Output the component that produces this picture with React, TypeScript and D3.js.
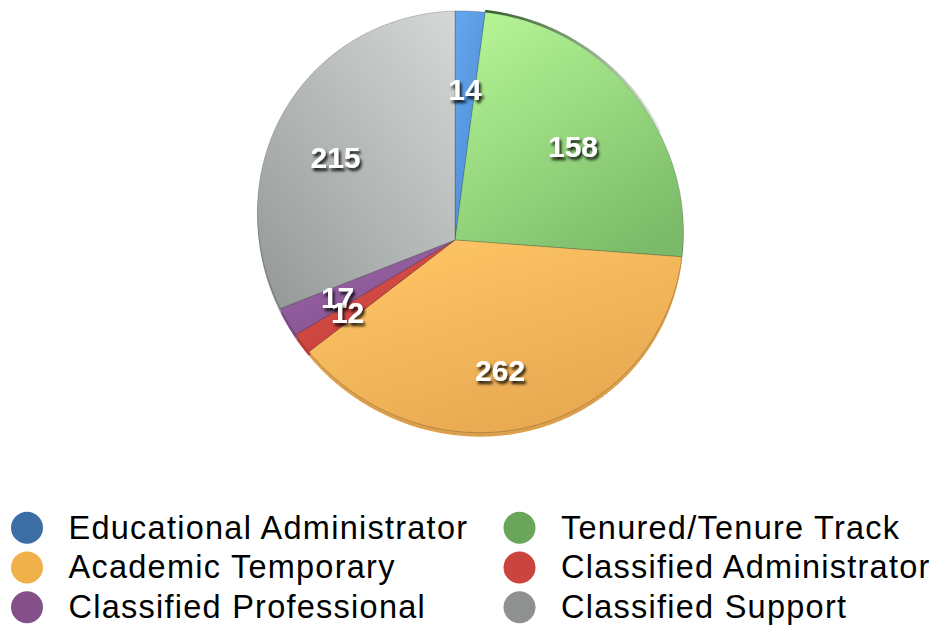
import React from "react";
import * as d3 from "d3";

const categories = [
  "Educational Administrator",
  "Tenured/Tenure Track",
  "Academic Temporary",
  "Classified Administrator",
  "Classified Professional",
  "Classified Support",
];
const values = [14, 158, 262, 12, 17, 215];
const legendColors = ["#3b6ea5", "#6aa55c", "#f0b04a", "#cc4440", "#835089", "#8f9090"];
const sliceTop = ["#63a4ea", "#b3f394", "#fec565", "#d85048", "#9a64a6", "#d6d8d8"];
const sliceBottom = ["#4a8ad4", "#7aba68", "#e6a64f", "#c8403c", "#84528f", "#969b9a"];
// legend order: left column then right column
const legendLeft = [0, 2, 4];
const legendRight = [1, 3, 5];

const W = 935;
const H = 626;
// perspective view of the pie disk (apex = projected centre)
const APEX_X = 455;
const APEX_Y = 240;
const M11 = 211;
const M21 = 10.8;
const M22 = 208.4;
const PA = -0.072;
const PB = 0.09;
const DEPTH = 4;

const project = (x: number, y: number): [number, number] => {
  const w = 1 + PA * x + PB * y;
  return [APEX_X + (M11 * x) / w, APEX_Y + (M21 * x + M22 * y) / w];
};
const rim = (theta: number, rho = 1): [number, number] =>
  project(rho * Math.sin(theta), -rho * Math.cos(theta));

const sampleArc = (a0: number, a1: number): [number, number][] => {
  const n = Math.max(2, Math.ceil((a1 - a0) / (Math.PI / 360)));
  return d3.range(n + 1).map((k) => rim(a0 + ((a1 - a0) * k) / n));
};

export default function App() {
  const pie = d3.pie<number>().sort(null).startAngle(0).endAngle(2 * Math.PI)(values);
  const line = d3.line();

  const slicePath = (a0: number, a1: number, dy = 0) =>
    line(
      [[APEX_X, APEX_Y] as [number, number], ...sampleArc(a0, a1)].map(
        ([x, y]) => [x, y + dy] as [number, number]
      )
    ) + "Z";

  const g1 = pie[1];
  const rimPts = sampleArc(g1.startAngle, g1.startAngle + (g1.endAngle - g1.startAngle) * 0.62).map(
    ([x, y]) => [x + 0.9, y - 0.9] as [number, number]
  );
  const rs = rimPts[0];
  const re = rimPts[rimPts.length - 1];

  const labelOrder = [5, 4, 3, 2, 1, 0];
  const LR = 0.68;

  const font = "'Liberation Sans', Arial, Helvetica, sans-serif";

  return (
    <svg
      width={W}
      height={H}
      style={{ position: "absolute", left: 0, top: 0, display: "block", background: "#ffffff" }}
    >
      <defs>
        {pie.map((d, i) => (
          <linearGradient
            key={i}
            id={`g${i}`}
            x1={i === 5 ? 1 : 0.2}
            y1={0}
            x2={i === 5 ? 0.1 : 0.8}
            y2={1}
          >
            <stop offset="0%" stopColor={sliceTop[i]} />
            <stop offset="100%" stopColor={sliceBottom[i]} />
          </linearGradient>
        ))}
        <linearGradient id="rim" gradientUnits="userSpaceOnUse" x1={rs[0]} y1={rs[1]} x2={re[0]} y2={re[1]}>
          <stop offset="0%" stopColor="#34602a" stopOpacity={1} />
          <stop offset="100%" stopColor="#4d7f3f" stopOpacity={0.15} />
        </linearGradient>
        <filter id="shadow" x="-30%" y="-30%" width="160%" height="180%">
          <feDropShadow dx={2} dy={3} stdDeviation={1.6} floodColor="#000" floodOpacity={0.85} />
        </filter>
      </defs>

      {/* side wall (thickness) */}
      {pie.map((d, i) => (
        <path
          key={`w${i}`}
          d={slicePath(d.startAngle, d.endAngle, DEPTH)}
          fill={d3.color(sliceBottom[i])!.darker(0.12).toString()}
        />
      ))}

      <path d={line(rimPts) || ""} fill="none" stroke="url(#rim)" strokeWidth={2.8} strokeLinecap="round" />

      {pie.map((d, i) => (
        <path
          key={i}
          d={slicePath(d.startAngle, d.endAngle)}
          fill={`url(#g${i})`}
          stroke="rgba(40,40,40,0.4)"
          strokeWidth={0.6}
          strokeLinejoin="round"
        />
      ))}

      {labelOrder.map((i) => {
        const d = pie[i];
        const m = (d.startAngle + d.endAngle) / 2;
        const [x, y] = rim(m, LR);
        return (
          <text
            key={i}
            x={x}
            y={y}
            textAnchor="middle"
            dominantBaseline="central"
            fontFamily={font}
            fontWeight="bold"
            fontSize={30}
            fill="#ffffff"
            filter="url(#shadow)"
          >
            {values[i]}
          </text>
        );
      })}

      {legendLeft.map((i, r) => (
        <g key={`l${i}`} transform={`translate(27, ${527.7 + r * 39.8})`}>
          <circle r={16} fill={legendColors[i]} />
          <text x={41.5} y={10.8} fontFamily={font} fontSize={32.5} letterSpacing={1.25} fill="#000">
            {categories[i]}
          </text>
        </g>
      ))}
      {legendRight.map((i, r) => (
        <g key={`r${i}`} transform={`translate(519.5, ${527.7 + r * 39.8})`}>
          <circle r={16} fill={legendColors[i]} />
          <text x={41.5} y={10.8} fontFamily={font} fontSize={32.5} letterSpacing={1.25} fill="#000">
            {categories[i]}
          </text>
        </g>
      ))}
    </svg>
  );
}
